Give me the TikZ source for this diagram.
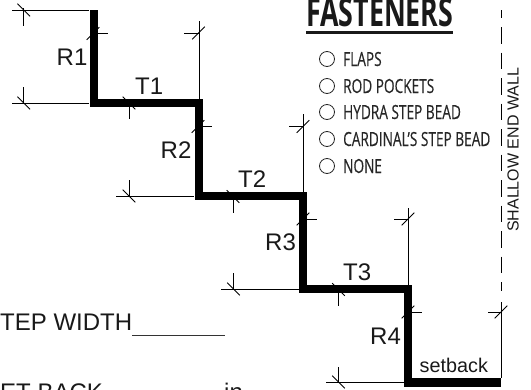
\documentclass[tikz,border=0pt]{standalone}
\usepackage{fontspec}
\setmainfont{Liberation Sans}
\newfontfamily\condfont[FakeStretch=0.70,FakeBold=0.35]{Open Sans}
\newfontfamily\headfont[FakeStretch=0.67]{Open Sans Bold}
\tikzset{
  lbl/.style={anchor=base west,inner sep=0pt,font=\fontsize{24}{24}\selectfont,text=black!90},
  dimline/.style={line width=0.8pt,black},
  opt/.style={anchor=base west,inner sep=0pt,font=\condfont\fontsize{19.5}{20}\selectfont,text=black!85},
  radio/.style={circle,draw=black!85,line width=0.8pt,minimum size=15pt,inner sep=0pt},
  stair/.style={line width=8.4pt,black,miter limit=10,line join=miter},
}
\newcommand{\slashmark}[2]{\draw[dimline] (#1-6.3,#2-6.3) -- (#1+6.3,#2+6.3);}
\newcommand{\backmark}[2]{\draw[dimline] (#1-6.3,#2+6.3) -- (#1+6.3,#2-6.3);}
\begin{document}
\begin{tikzpicture}[x=1pt,y=-1pt]
\useasboundingbox (0,0) rectangle (531,389);
\clip (0,0) rectangle (531,389);
% stair
\coordinate (s0) at (94,10);
\coordinate (s1) at (94,103);
\coordinate (s2) at (199,103);
\coordinate (s3) at (199,196);
\coordinate (s4) at (303,196);
\coordinate (s5) at (303,289);
\coordinate (s6) at (408,289);
\coordinate (s7) at (408,382.5);
\coordinate (s8) at (501,382.5);
% R1
\draw[dimline] (12,10) -- (89,10);
\draw[dimline] (23.7,8) -- (23.7,26);
\slashmark{23.7}{10}
\draw[dimline] (12,103) -- (89,103);
\draw[dimline] (23.7,87) -- (23.7,103);
\slashmark{23.7}{103}
\draw[dimline] (98,33) -- (108,33);
\backmark{93}{33.5}
% T1
\draw[dimline] (199,21) -- (199,99);
\draw[dimline] (184,33) -- (199,33);
\backmark{198.5}{33}
\draw[dimline] (129,107) -- (129,119);
\slashmark{129}{103}
% R2
\draw[dimline] (203,126.5) -- (212,126.5);
\backmark{198}{126.5}
\draw[dimline] (116,196) -- (194,196);
\draw[dimline] (129,180) -- (129,196);
\slashmark{129}{196}
% T2
\draw[dimline] (233,200) -- (233,212.7);
\slashmark{233}{196.5}
\draw[dimline] (303,114) -- (303,192);
\draw[dimline] (289,126.5) -- (303,126.5);
\backmark{303}{126.5}
% R3
\draw[dimline] (307,219) -- (317,219);
\backmark{303}{219}
\draw[dimline] (221,289) -- (299,289);
\draw[dimline] (233,273) -- (233,289);
\slashmark{233.5}{289}
% T3
\draw[dimline] (338,293) -- (338,305.7);
\slashmark{338.5}{289.5}
\draw[dimline] (408,208) -- (408,285);
\draw[dimline] (394,219) -- (408,219);
\backmark{408}{219}
% R4
\draw[dimline] (412,312.7) -- (422,312.7);
\backmark{408}{312}
\draw[dimline] (326,382) -- (404,382);
\draw[dimline] (338,367) -- (338,382);
\slashmark{338.5}{382}
% setback
\draw[dimline] (501,302) -- (501,378);
\draw[dimline] (488,312.7) -- (501,312.7);
\backmark{501}{312}
% dashed wall
\draw[line width=1pt,black,dash pattern=on 16.5pt off 9pt,dash phase=8.5pt] (501,10) -- (501,291);
% stair
\draw[stair] (s0) -- (s1) -- (s2) -- (s3) -- (s4) -- (s5) -- (s6) -- (s7) -- (s8);
% labels
\node[lbl] (r1) at (56.5,65) {R1};
\node[lbl] (t1) at (135,94) {T1};
\node[lbl] (r2) at (160.5,158) {R2};
\node[lbl] (t2) at (238,187) {T2};
\node[lbl] (r3) at (265,250.7) {R3};
\node[lbl] (t3) at (343,280) {T3};
\node[lbl] (r4) at (370,344) {R4};
\node[lbl,font=\fontsize{19.8}{20}\selectfont] (sb) at (419.5,372) {setback};
\node[lbl,rotate=90,font=\fontsize{16}{17}\selectfont] (wall) at (518.5,232) {SHALLOW END WALL};
% heading
\node[anchor=base west,inner sep=0pt,font=\headfont\fontsize{40}{40}\selectfont,text=black!90] (head) at (306,26) {FASTENERS};
\draw[line width=3pt,black!90] (306,32.5) -- (453,32.5);
% options
\foreach \nm/\y/\t in {a/59/FLAPS,b/86/ROD POCKETS,c/112/HYDRA STEP BEAD,d/139/CARDINAL’S STEP BEAD,e/166/NONE}{
  \node[radio] (c\nm) at (327,\y) {};
  \node[opt] (o\nm) at (343,\y+7) {\t};
}
% bottom text
\node[lbl] (w) at (0,330.7) {TEP WIDTH};
\draw[line width=0.8pt,black!80] (132,335.7) -- (225,335.7);
\node[lbl] (sbk) at (0,400) {ET BACK};
\node[lbl] (in) at (224,400) {in};
\end{tikzpicture}
\end{document}
